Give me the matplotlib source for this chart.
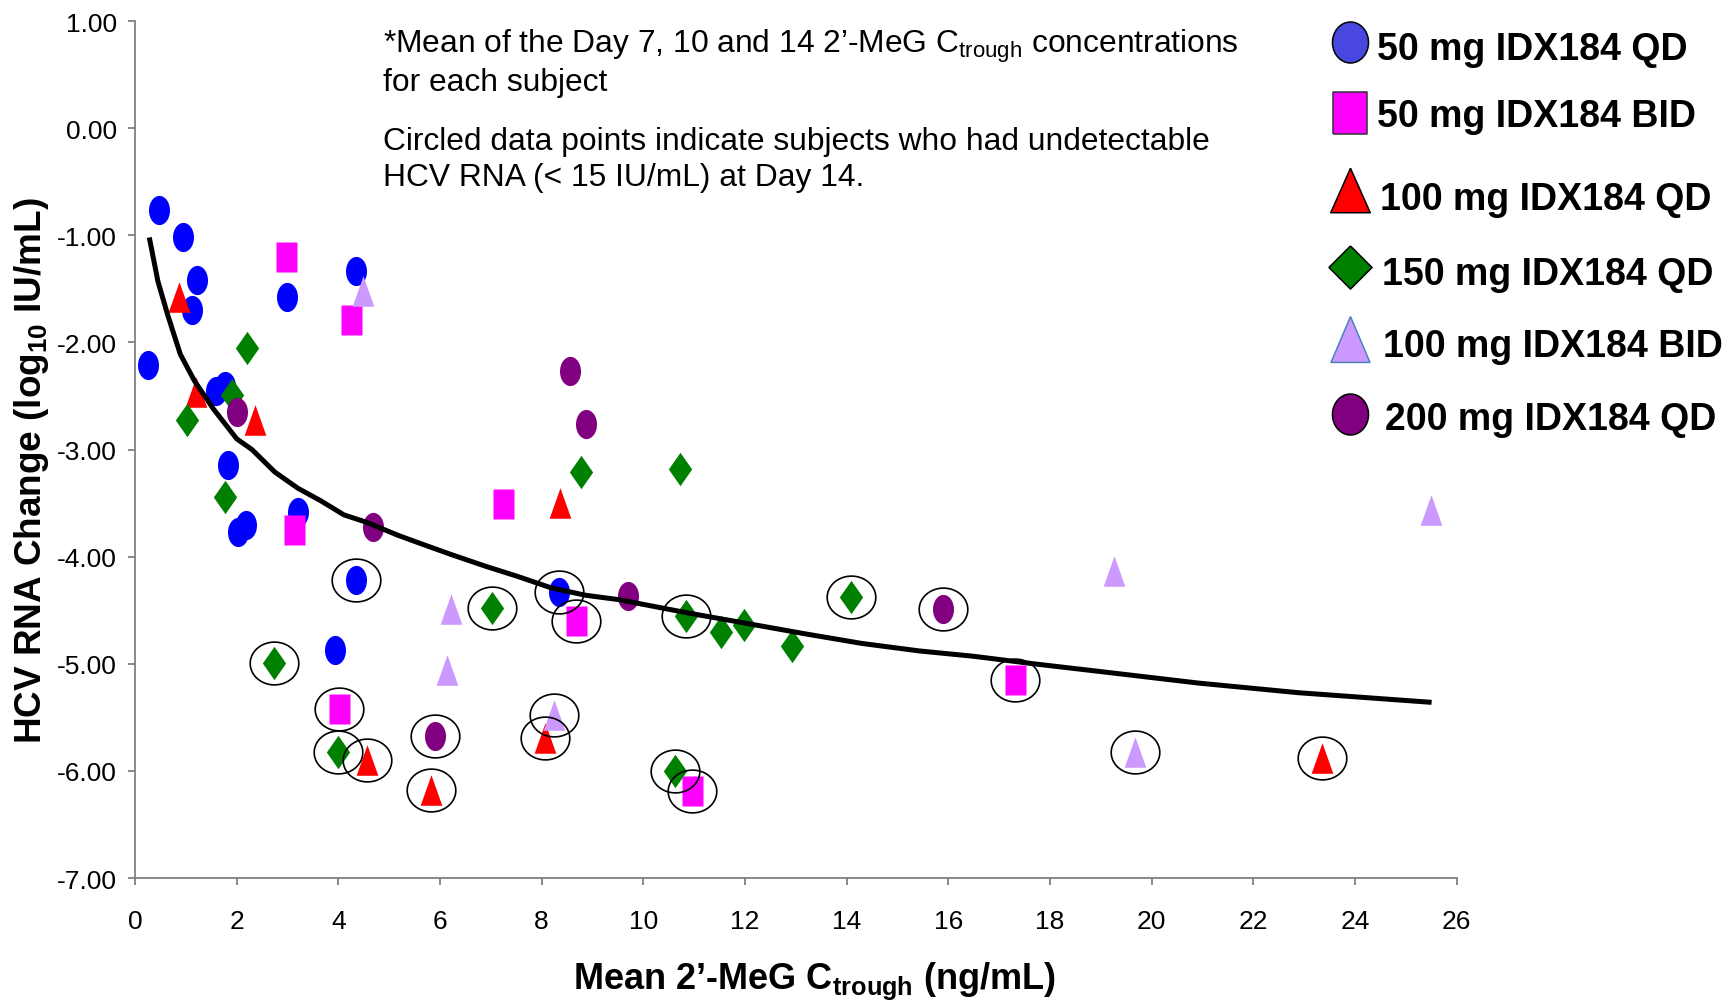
import matplotlib
matplotlib.use('Agg')
import matplotlib.pyplot as plt
from matplotlib.path import Path
from matplotlib.lines import Line2D
from matplotlib import font_manager
import numpy as np

# ---------------- data ----------------
qd50_x = [0.26, 0.48, 0.94, 1.22, 1.13, 1.60, 1.77, 1.82, 2.02, 2.19, 3.20, 2.99, 4.34, 4.34, 3.94, 8.35]
qd50_y = [-2.21, -0.76, -1.02, -1.42, -1.70, -2.45, -2.41, -3.14, -3.77, -3.70, -3.58, -1.58, -1.33, -4.22, -4.87, -4.33]
qd50_c = [0, 0, 0, 0, 0, 0, 0, 0, 0, 0, 0, 0, 0, 1, 0, 1]

bid50_x = [2.96, 4.25, 3.12, 7.24, 8.67, 4.01, 10.95, 17.32]
bid50_y = [-1.20, -1.79, -3.75, -3.51, -4.60, -5.42, -6.19, -5.15]
bid50_c = [0, 0, 0, 0, 1, 1, 1, 1]

qd100_x = [0.87, 1.20, 2.36, 8.36, 4.57, 5.83, 8.07, 23.35]
qd100_y = [-1.58, -2.46, -2.72, -3.50, -5.90, -6.18, -5.69, -5.88]
qd100_c = [0, 0, 0, 0, 1, 1, 1, 1]

qd150_x = [1.02, 1.90, 2.20, 1.76, 2.74, 4.00, 7.03, 8.77, 10.72, 10.84, 10.63, 11.53, 11.98, 12.92, 14.09]
qd150_y = [-2.72, -2.49, -2.05, -3.44, -4.99, -5.82, -4.48, -3.21, -3.18, -4.55, -6.00, -4.70, -4.64, -4.83, -4.38]
qd150_c = [0, 0, 0, 0, 1, 1, 1, 0, 0, 1, 1, 0, 0, 0, 1]

bid100_x = [4.48, 6.21, 6.13, 8.25, 19.27, 19.67, 25.50]
bid100_y = [-1.52, -4.49, -5.06, -5.48, -4.13, -5.82, -3.56]
bid100_c = [0, 0, 0, 1, 0, 1, 0]

qd200_x = [2.01, 4.68, 8.55, 8.88, 9.69, 5.90, 15.90]
qd200_y = [-2.65, -3.72, -2.27, -2.76, -4.37, -5.67, -4.49]
qd200_c = [0, 0, 0, 0, 0, 1, 1]

fit_x = [0.28, 0.45, 0.64, 0.89, 1.17, 1.54, 2.00, 2.30, 2.75, 3.20, 3.66, 4.11, 4.56, 5.17, 5.69,
         6.22, 6.90, 7.50, 8.18, 8.86, 9.50, 10.93, 12.00, 13.18, 14.30, 15.43, 16.50, 17.68,
         18.95, 20.92, 22.89, 25.51]
fit_y = [-1.02, -1.43, -1.74, -2.11, -2.36, -2.62, -2.90, -3.00, -3.21, -3.36, -3.48, -3.61, -3.68,
         -3.80, -3.89, -3.98, -4.09, -4.18, -4.29, -4.36, -4.40, -4.53, -4.62, -4.72, -4.81, -4.88,
         -4.93, -5.00, -5.07, -5.18, -5.27, -5.36]

series_labels = ['50 mg IDX184 QD', '50 mg IDX184 BID', '100 mg IDX184 QD',
                 '150 mg IDX184 QD', '100 mg IDX184 BID', '200 mg IDX184 QD']
x_ticks = list(range(0, 27, 2))
y_ticks = [1, 0, -1, -2, -3, -4, -5, -6, -7]

# ---------------- fonts ----------------
names = {f.name for f in font_manager.fontManager.ttflist}
NARROW = 'Liberation Sans Narrow' if 'Liberation Sans Narrow' in names else 'Liberation Sans'
BOLD = 'Liberation Sans'
plt.rcParams['axes.unicode_minus'] = False
plt.rcParams['mathtext.fontset'] = 'custom'
plt.rcParams['mathtext.rm'] = NARROW
plt.rcParams['mathtext.it'] = NARROW
plt.rcParams['mathtext.bf'] = 'Liberation Sans:bold'


# ---------------- marker shapes ----------------
def ellipse(rx, ry):
    t = np.linspace(0, 2 * np.pi, 80)
    return Path(np.column_stack([rx * np.cos(t), ry * np.sin(t)]))


def rect(w, h):
    return Path([(-w, -h), (w, -h), (w, h), (-w, h), (-w, -h)])


def tri(w, h):
    return Path([(0, h), (-w, -h), (w, -h), (0, h)])


def diamond(w, h):
    return Path([(0, h), (w, 0), (0, -h), (-w, 0), (0, h)])


m_circ = ellipse(0.72, 1.0)
m_sq = rect(0.72, 1.0)
m_tri = tri(0.71, 1.0)
m_dia = diamond(0.70, 1.0)
m_ring = ellipse(1.0, 0.88)

fig = plt.figure(figsize=(17.36, 10.03), dpi=100)
ax = fig.add_axes([0.0778, 0.1236, 0.7612, 0.8544])

groups = [
    (qd50_x, qd50_y, qd50_c, '#0000FF', m_circ, 21),
    (bid50_x, bid50_y, bid50_c, '#FF00FF', m_sq, 21),
    (qd100_x, qd100_y, qd100_c, '#FF0000', m_tri, 22),
    (qd150_x, qd150_y, qd150_c, '#008000', m_dia, 24),
    (bid100_x, bid100_y, bid100_c, '#CC99FF', m_tri, 22),
    (qd200_x, qd200_y, qd200_c, '#800080', m_circ, 21),
]
for xs, ys, cs, col, mk, ms in groups:
    ax.plot(xs, ys, ls='none', marker=mk, ms=ms, mfc=col, mec='none', zorder=3, clip_on=False)

ax.plot(fit_x, fit_y, color='black', lw=3.6, zorder=4, solid_capstyle='butt')

for xs, ys, cs, col, mk, ms in groups:
    cx = [x for x, c in zip(xs, cs) if c]
    cy = [y for y, c in zip(ys, cs) if c]
    ax.plot(cx, cy, ls='none', marker=m_ring, ms=35, mfc='none', mec='black', mew=1.2, zorder=5)

ax.set_xlim(0, 26)
ax.set_ylim(-7, 1)
ax.set_xticks(x_ticks)
ax.set_xticklabels([str(v) for v in x_ticks], fontfamily=NARROW, fontsize=19)
ax.set_yticks(y_ticks)
ax.set_yticklabels(['%.2f' % v for v in y_ticks], fontfamily=NARROW, fontsize=19)
for s in ['top', 'right']:
    ax.spines[s].set_visible(False)
for s in ['left', 'bottom']:
    ax.spines[s].set_color('#808080')
    ax.spines[s].set_linewidth(1.3)
ax.tick_params(axis='both', direction='out', length=5, width=1.3, color='#808080')
ax.tick_params(axis='y', pad=8)
ax.tick_params(axis='x', pad=17)

# axis labels
fig.text(0.469, 0.014, r"Mean 2’-MeG C$_{\mathbf{trough}}$ (ng/mL)", fontfamily=BOLD,
         fontweight='bold', fontsize=26, ha='center', va='baseline')
fig.text(0.018, 0.531, r"HCV RNA Change (log$_{\mathbf{10}}$ IU/mL)", fontfamily=BOLD,
         fontweight='bold', fontsize=26.6, ha='center', va='center', rotation=90)

# annotation text
note_x = 0.2206
fig.text(note_x, 0.947, r"*Mean of the Day 7, 10 and 14 2’-MeG C$_{\mathrm{trough}}$ concentrations",
         fontfamily=NARROW, fontsize=22.9, va='baseline')
fig.text(note_x, 0.909, "for each subject", fontfamily=NARROW, fontsize=22.9, va='baseline')
fig.text(note_x, 0.850, "Circled data points indicate subjects who had undetectable",
         fontfamily=NARROW, fontsize=22.9, va='baseline')
fig.text(note_x, 0.815, "HCV RNA (< 15 IU/mL) at Day 14.", fontfamily=NARROW, fontsize=22.9, va='baseline')

# legend (manual)
leg_markers = [
    (ellipse(0.88, 1.0), '#4848E0', 'black', 29.5, 0.957),
    (rect(0.81, 1.0), '#FF00FF', '#333333', 30, 0.886),
    (tri(0.89, 1.0), '#FF0000', 'black', 32, 0.810),
    (diamond(1.0, 1.0), '#008000', 'black', 31, 0.733),
    (tri(0.85, 1.0), '#CC99FF', '#4F81BD', 33, 0.661),
    (ellipse(0.88, 1.0), '#800080', 'black', 29.5, 0.586),
]
text_y = [0.9402, 0.8734, 0.7906, 0.7159, 0.6441, 0.5713]
text_x = [0.7932, 0.7932, 0.7950, 0.7961, 0.7967, 0.7978]
for (mk, fc, ec, ms, my), lab, ty, tx in zip(leg_markers, series_labels, text_y, text_x):
    fig.add_artist(Line2D([0.7775], [my], transform=fig.transFigure, ls='none', marker=mk,
                          ms=ms, mfc=fc, mec=ec, mew=1.1))
    fig.text(tx, ty, lab, fontfamily=BOLD, fontweight='bold', fontsize=27, va='baseline')

fig.savefig('out.png', dpi=100)
